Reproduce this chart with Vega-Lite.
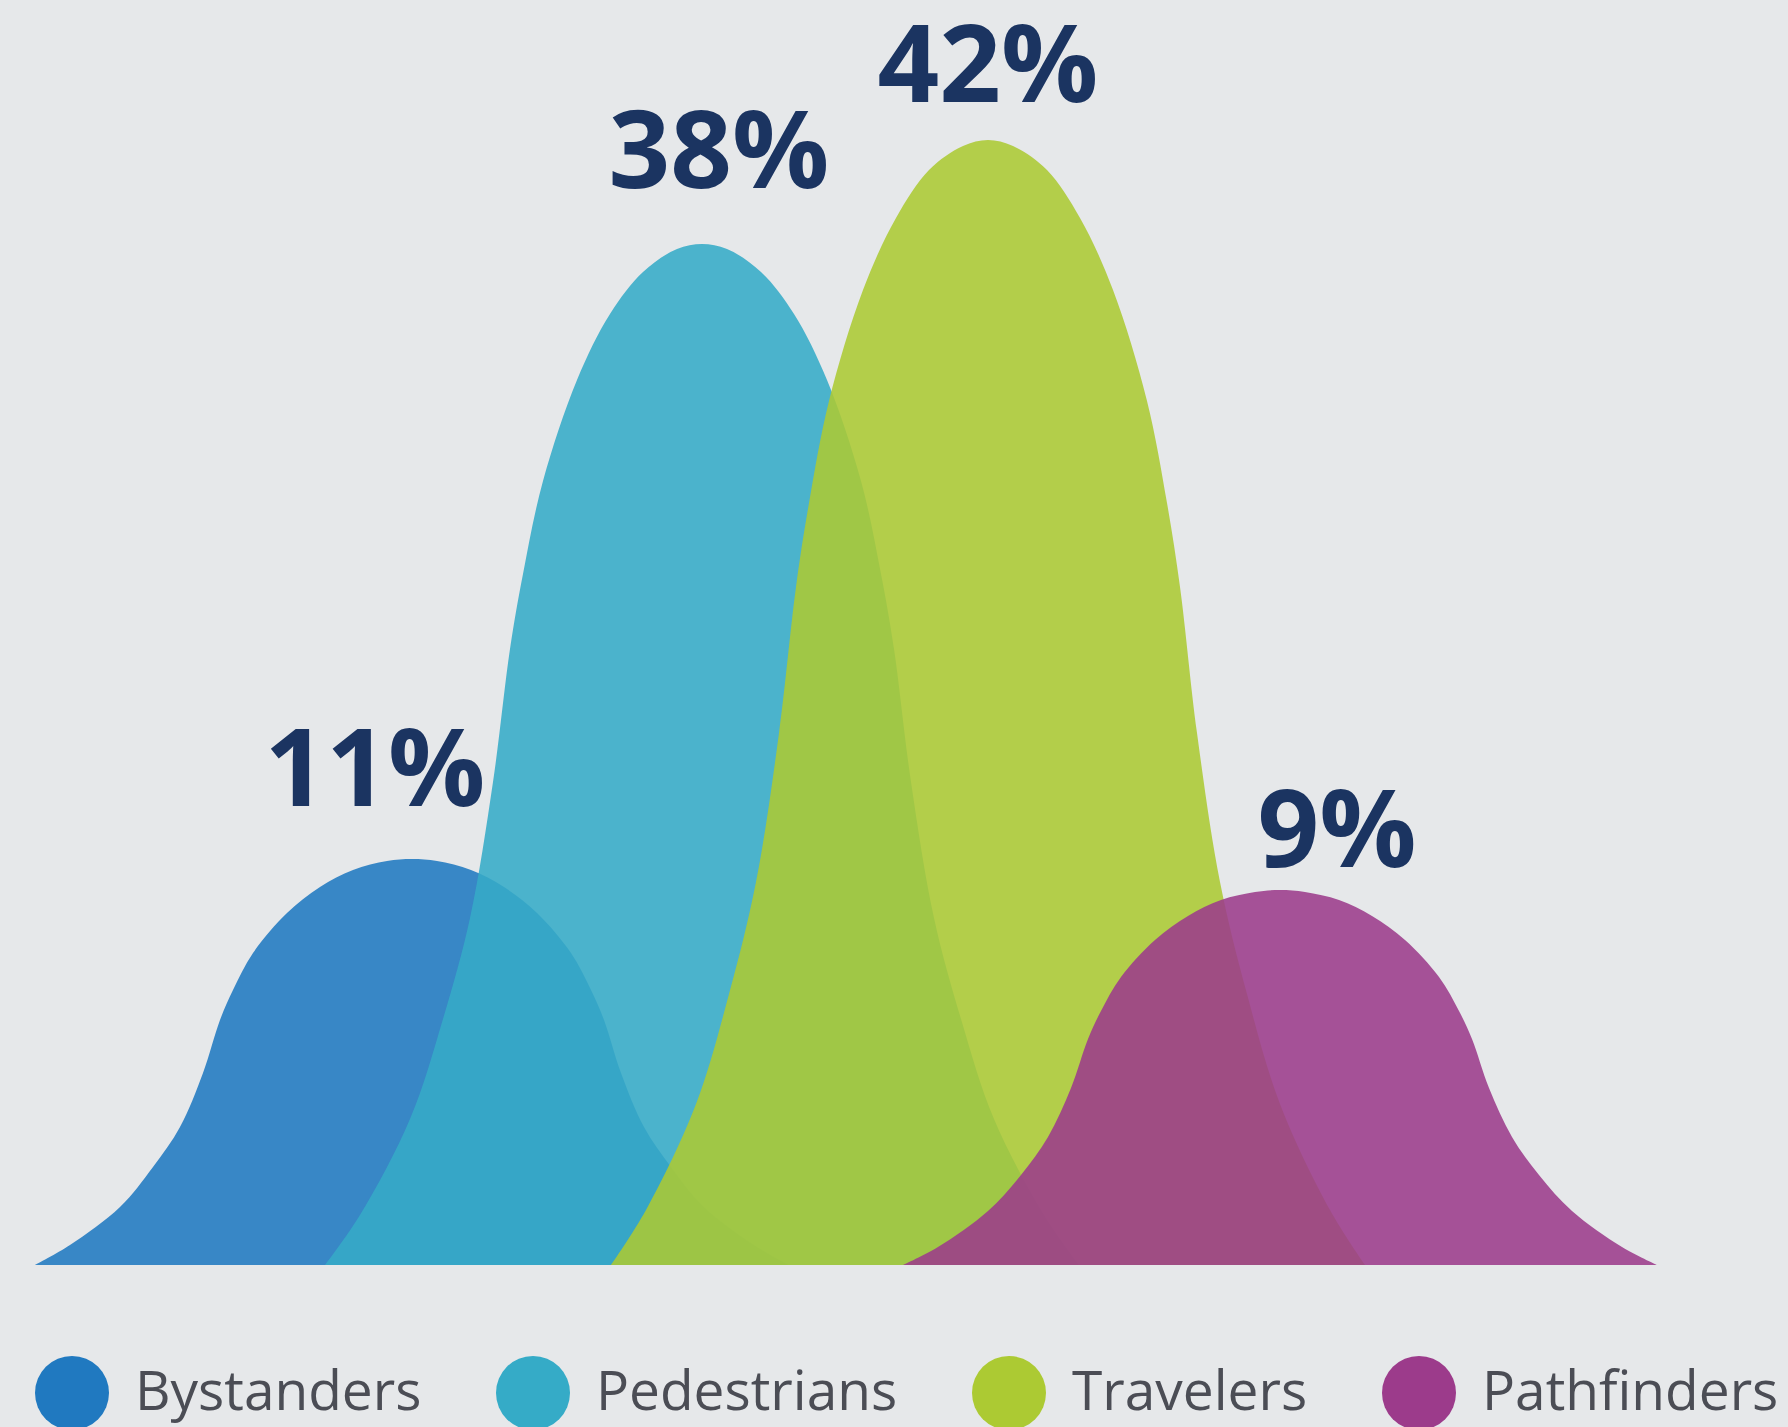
{
  "$schema": "https://vega.github.io/schema/vega-lite/v6.json",
  "width": 1788,
  "height": 1427,
  "padding": 0,
  "autosize": {"type": "none"},
  "background": "#e6e8ea",
  "config": {"view": {"stroke": null}},
  "datasets": {
    "curves": [
      {"series": "Bystanders", "score": 35, "value": 0},
      {"series": "Bystanders", "score": 70, "value": 20},
      {"series": "Bystanders", "score": 120, "value": 58},
      {"series": "Bystanders", "score": 153, "value": 98},
      {"series": "Bystanders", "score": 180, "value": 138},
      {"series": "Bystanders", "score": 203, "value": 192},
      {"series": "Bystanders", "score": 220, "value": 245},
      {"series": "Bystanders", "score": 233, "value": 275},
      {"series": "Bystanders", "score": 253, "value": 312},
      {"series": "Bystanders", "score": 287, "value": 352},
      {"series": "Bystanders", "score": 320, "value": 378},
      {"series": "Bystanders", "score": 353, "value": 395},
      {"series": "Bystanders", "score": 387, "value": 404},
      {"series": "Bystanders", "score": 412, "value": 406},
      {"series": "Bystanders", "score": 437, "value": 404},
      {"series": "Bystanders", "score": 471, "value": 395},
      {"series": "Bystanders", "score": 504, "value": 378},
      {"series": "Bystanders", "score": 537, "value": 352},
      {"series": "Bystanders", "score": 571, "value": 312},
      {"series": "Bystanders", "score": 591, "value": 275},
      {"series": "Bystanders", "score": 604, "value": 245},
      {"series": "Bystanders", "score": 621, "value": 192},
      {"series": "Bystanders", "score": 644, "value": 138},
      {"series": "Bystanders", "score": 671, "value": 98},
      {"series": "Bystanders", "score": 704, "value": 58},
      {"series": "Bystanders", "score": 754, "value": 20},
      {"series": "Bystanders", "score": 789, "value": 0},
      {"series": "Pedestrians", "score": 325, "value": 0},
      {"series": "Pedestrians", "score": 360, "value": 50},
      {"series": "Pedestrians", "score": 410, "value": 146},
      {"series": "Pedestrians", "score": 443, "value": 246},
      {"series": "Pedestrians", "score": 470, "value": 347},
      {"series": "Pedestrians", "score": 493, "value": 483},
      {"series": "Pedestrians", "score": 510, "value": 616},
      {"series": "Pedestrians", "score": 523, "value": 691},
      {"series": "Pedestrians", "score": 543, "value": 784},
      {"series": "Pedestrians", "score": 577, "value": 885},
      {"series": "Pedestrians", "score": 610, "value": 951},
      {"series": "Pedestrians", "score": 643, "value": 993},
      {"series": "Pedestrians", "score": 677, "value": 1016},
      {"series": "Pedestrians", "score": 702, "value": 1021},
      {"series": "Pedestrians", "score": 727, "value": 1016},
      {"series": "Pedestrians", "score": 761, "value": 993},
      {"series": "Pedestrians", "score": 794, "value": 951},
      {"series": "Pedestrians", "score": 827, "value": 885},
      {"series": "Pedestrians", "score": 861, "value": 784},
      {"series": "Pedestrians", "score": 881, "value": 691},
      {"series": "Pedestrians", "score": 894, "value": 616},
      {"series": "Pedestrians", "score": 911, "value": 483},
      {"series": "Pedestrians", "score": 934, "value": 347},
      {"series": "Pedestrians", "score": 961, "value": 246},
      {"series": "Pedestrians", "score": 994, "value": 146},
      {"series": "Pedestrians", "score": 1044, "value": 50},
      {"series": "Pedestrians", "score": 1079, "value": 0},
      {"series": "Travelers", "score": 611, "value": 0},
      {"series": "Travelers", "score": 646, "value": 55},
      {"series": "Travelers", "score": 696, "value": 161},
      {"series": "Travelers", "score": 729, "value": 271},
      {"series": "Travelers", "score": 756, "value": 383},
      {"series": "Travelers", "score": 779, "value": 532},
      {"series": "Travelers", "score": 796, "value": 678},
      {"series": "Travelers", "score": 809, "value": 762},
      {"series": "Travelers", "score": 829, "value": 864},
      {"series": "Travelers", "score": 863, "value": 975},
      {"series": "Travelers", "score": 896, "value": 1047},
      {"series": "Travelers", "score": 929, "value": 1095},
      {"series": "Travelers", "score": 963, "value": 1119},
      {"series": "Travelers", "score": 988, "value": 1125},
      {"series": "Travelers", "score": 1013, "value": 1119},
      {"series": "Travelers", "score": 1047, "value": 1095},
      {"series": "Travelers", "score": 1080, "value": 1047},
      {"series": "Travelers", "score": 1113, "value": 975},
      {"series": "Travelers", "score": 1147, "value": 864},
      {"series": "Travelers", "score": 1167, "value": 762},
      {"series": "Travelers", "score": 1180, "value": 678},
      {"series": "Travelers", "score": 1197, "value": 532},
      {"series": "Travelers", "score": 1220, "value": 383},
      {"series": "Travelers", "score": 1247, "value": 271},
      {"series": "Travelers", "score": 1280, "value": 161},
      {"series": "Travelers", "score": 1330, "value": 55},
      {"series": "Travelers", "score": 1365, "value": 0},
      {"series": "Pathfinders", "score": 903, "value": 0},
      {"series": "Pathfinders", "score": 938, "value": 18},
      {"series": "Pathfinders", "score": 988, "value": 54},
      {"series": "Pathfinders", "score": 1021, "value": 90},
      {"series": "Pathfinders", "score": 1048, "value": 128},
      {"series": "Pathfinders", "score": 1071, "value": 177},
      {"series": "Pathfinders", "score": 1088, "value": 226},
      {"series": "Pathfinders", "score": 1101, "value": 254},
      {"series": "Pathfinders", "score": 1121, "value": 288},
      {"series": "Pathfinders", "score": 1155, "value": 325},
      {"series": "Pathfinders", "score": 1188, "value": 349},
      {"series": "Pathfinders", "score": 1221, "value": 365},
      {"series": "Pathfinders", "score": 1255, "value": 373},
      {"series": "Pathfinders", "score": 1280, "value": 375},
      {"series": "Pathfinders", "score": 1305, "value": 373},
      {"series": "Pathfinders", "score": 1339, "value": 365},
      {"series": "Pathfinders", "score": 1372, "value": 349},
      {"series": "Pathfinders", "score": 1405, "value": 325},
      {"series": "Pathfinders", "score": 1439, "value": 288},
      {"series": "Pathfinders", "score": 1459, "value": 254},
      {"series": "Pathfinders", "score": 1472, "value": 226},
      {"series": "Pathfinders", "score": 1489, "value": 177},
      {"series": "Pathfinders", "score": 1512, "value": 128},
      {"series": "Pathfinders", "score": 1539, "value": 90},
      {"series": "Pathfinders", "score": 1572, "value": 54},
      {"series": "Pathfinders", "score": 1622, "value": 18},
      {"series": "Pathfinders", "score": 1657, "value": 0}
    ],
    "labels": [
      {"series": "Bystanders", "label": "11%", "score": 375, "value": 459},
      {"series": "Pedestrians", "label": "38%", "score": 719, "value": 1077},
      {"series": "Travelers", "label": "42%", "score": 988, "value": 1163},
      {"series": "Pathfinders", "label": "9%", "score": 1337, "value": 398}
    ]
  },
  "layer": [
    {
      "data": {"name": "curves"},
      "mark": {"type": "area", "interpolate": "catmull-rom", "opacity": 0.88},
      "encoding": {
        "x": {"field": "score", "type": "quantitative", "scale": {"domain": [0, 1788], "nice": false, "zero": false}, "axis": null},
        "y": {"field": "value", "type": "quantitative", "stack": null, "scale": {"domain": [-162, 1265], "nice": false}, "axis": null},
        "color": {
          "field": "series",
          "type": "nominal",
          "scale": {
            "domain": ["Bystanders", "Pedestrians", "Travelers", "Pathfinders"],
            "range": ["#2079c0", "#35abc7", "#acca33", "#9c3b8b"]
          },
          "legend": {
            "title": null,
            "orient": "none",
            "legendX": 35,
            "legendY": 1356,
            "direction": "horizontal",
            "padding": 0,
            "symbolType": "circle",
            "symbolSize": 5476,
            "symbolOpacity": 1,
            "symbolStrokeWidth": 0,
            "labelFont": "Open Sans",
            "labelFontSize": 55,
            "labelFontWeight": 500,
            "labelColor": "#4b4d55",
            "labelOffset": 26,
            "labelLimit": 0,
            "columnPadding": 74
          }
        }
      }
    },
    {
      "data": {"name": "labels"},
      "mark": {"type": "text", "font": "Open Sans", "fontWeight": "bold", "fontSize": 108, "color": "#1b3461", "align": "center", "baseline": "alphabetic"},
      "encoding": {
        "x": {"field": "score", "type": "quantitative"},
        "y": {"field": "value", "type": "quantitative"},
        "text": {"field": "label", "type": "nominal"}
      }
    }
  ]
}
